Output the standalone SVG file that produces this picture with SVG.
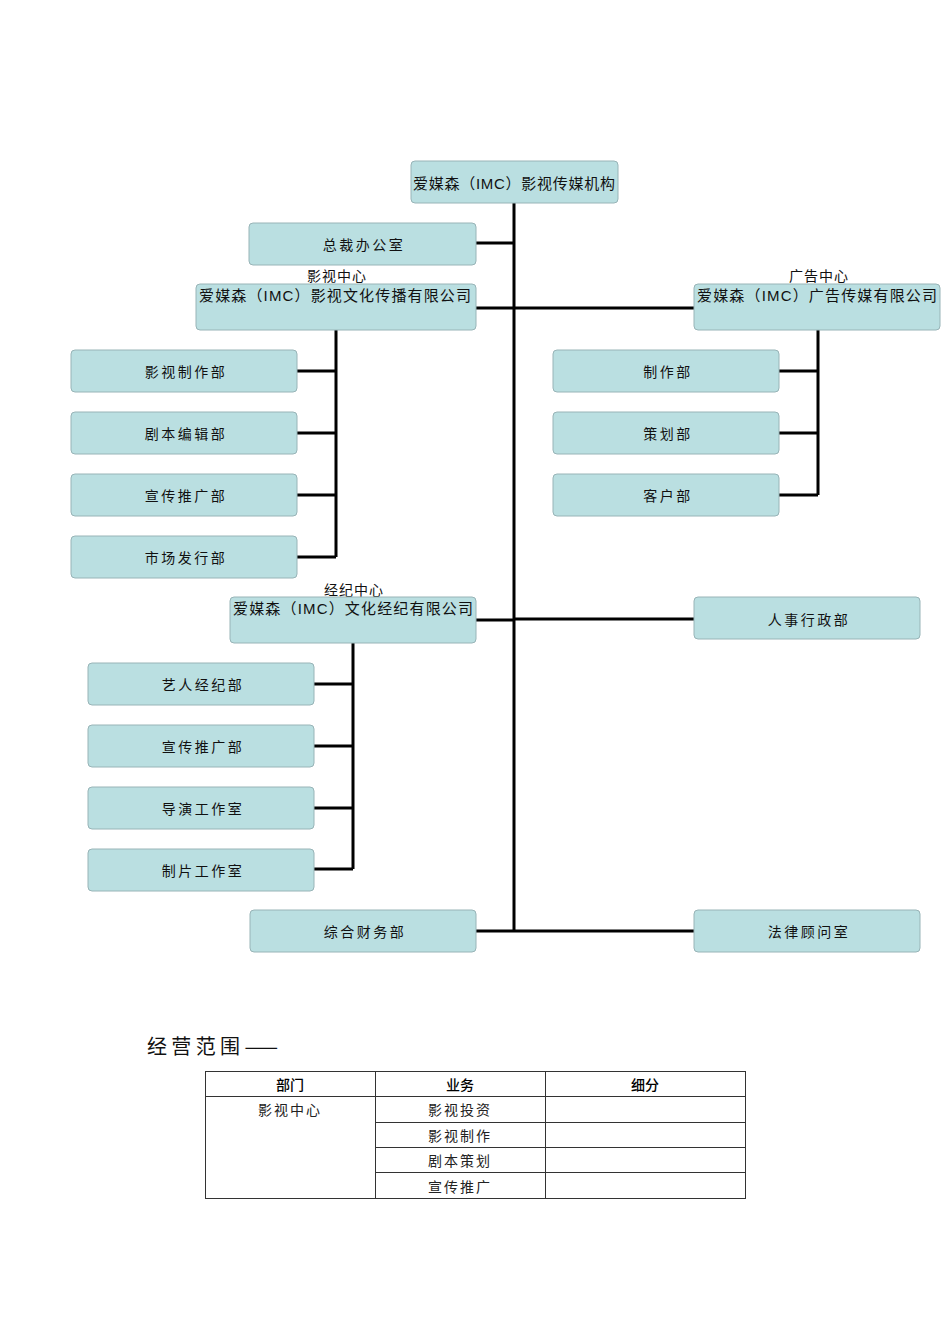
<svg xmlns="http://www.w3.org/2000/svg" width="950" height="1344" viewBox="0 0 950 1344">
<style>
.box{fill:#badfe1;stroke:#98b4b7;stroke-width:1}
.t{font-family:"Liberation Sans","Noto Sans CJK SC",sans-serif;font-size:14px;fill:#111;text-anchor:middle;letter-spacing:2.5px}
.tc{font-family:"Liberation Sans","Noto Sans CJK SC",sans-serif;font-size:15px;fill:#111}
.lbl{font-family:"Noto Sans CJK SC",sans-serif;font-size:14px;fill:#111}
.ln{stroke:#000;stroke-width:3;fill:none}
.tb{font-family:"Liberation Sans","Noto Sans CJK SC",sans-serif;font-size:14px;fill:#222;text-anchor:middle}
.tbl{stroke:#333;stroke-width:1;fill:none}
</style>
<rect width="950" height="1344" fill="#fff"/>
<g id="connectors">
<path class="ln" d="M514 203V931"/>
<path class="ln" d="M476 243H514"/>
<path class="ln" d="M476 308H694"/>
<path class="ln" d="M336 330V557M297 371H336M297 433H336M297 495H336M297 557H336"/>
<path class="ln" d="M818 330V495M779 371H818M779 433H818M779 495H818"/>
<path class="ln" d="M476 620H514M514 619H694"/>
<path class="ln" d="M353 643V869M314 684H353M314 746H353M314 808H353M314 869H353"/>
<path class="ln" d="M476 931H694"/>
</g>
<g id="root"><rect class="box" x="411" y="161" width="207" height="42" rx="4"/><text class="tc" x="413" y="189" textLength="202" lengthAdjust="spacing">爱媒森（IMC）影视传媒机构</text></g>
<g id="zongcai"><rect class="box" x="249" y="223" width="227" height="42" rx="4"/><text class="t" x="364" y="250">总裁办公室</text></g>
<g id="yingshi"><text class="lbl" x="307" y="281" textLength="59" lengthAdjust="spacing">影视中心</text><rect class="box" x="196" y="284" width="280" height="46" rx="4"/><text class="tc" x="199" y="301" textLength="272" lengthAdjust="spacing">爱媒森（IMC）影视文化传播有限公司</text></g>
<g id="guanggao"><text class="lbl" x="789" y="281" textLength="59" lengthAdjust="spacing">广告中心</text><rect class="box" x="694" y="284" width="246" height="46" rx="4"/><text class="tc" x="697" y="301" textLength="240" lengthAdjust="spacing">爱媒森（IMC）广告传媒有限公司</text></g>
<g id="ys1"><rect class="box" x="71" y="350" width="226" height="42" rx="4"/><text class="t" x="186" y="377">影视制作部</text></g>
<g id="ys2"><rect class="box" x="71" y="412" width="226" height="42" rx="4"/><text class="t" x="186" y="439">剧本编辑部</text></g>
<g id="ys3"><rect class="box" x="71" y="474" width="226" height="42" rx="4"/><text class="t" x="186" y="501">宣传推广部</text></g>
<g id="ys4"><rect class="box" x="71" y="536" width="226" height="42" rx="4"/><text class="t" x="186" y="563">市场发行部</text></g>
<g id="gg1"><rect class="box" x="553" y="350" width="226" height="42" rx="4"/><text class="t" x="668" y="377">制作部</text></g>
<g id="gg2"><rect class="box" x="553" y="412" width="226" height="42" rx="4"/><text class="t" x="668" y="439">策划部</text></g>
<g id="gg3"><rect class="box" x="553" y="474" width="226" height="42" rx="4"/><text class="t" x="668" y="501">客户部</text></g>
<g id="jingji"><text class="lbl" x="324" y="595" textLength="59" lengthAdjust="spacing">经纪中心</text><rect class="box" x="230" y="597" width="246" height="46" rx="4"/><text class="tc" x="233" y="614" textLength="240" lengthAdjust="spacing">爱媒森（IMC）文化经纪有限公司</text></g>
<g id="renshi"><rect class="box" x="694" y="597" width="226" height="42" rx="4"/><text class="t" x="809" y="625">人事行政部</text></g>
<g id="jj1"><rect class="box" x="88" y="663" width="226" height="42" rx="4"/><text class="t" x="203" y="690">艺人经纪部</text></g>
<g id="jj2"><rect class="box" x="88" y="725" width="226" height="42" rx="4"/><text class="t" x="203" y="752">宣传推广部</text></g>
<g id="jj3"><rect class="box" x="88" y="787" width="226" height="42" rx="4"/><text class="t" x="203" y="814">导演工作室</text></g>
<g id="jj4"><rect class="box" x="88" y="849" width="226" height="42" rx="4"/><text class="t" x="203" y="876">制片工作室</text></g>
<g id="caiwu"><rect class="box" x="250" y="910" width="226" height="42" rx="4"/><text class="t" x="365" y="937">综合财务部</text></g>
<g id="falv"><rect class="box" x="694" y="910" width="226" height="42" rx="4"/><text class="t" x="809" y="937">法律顾问室</text></g>
<g id="scope">
<text x="147" y="1054" textLength="131" lengthAdjust="spacing" style="font-family:'Noto Sans CJK SC',sans-serif;font-size:20px;fill:#111">经营范围——</text>
<rect class="tbl" x="205.5" y="1071.5" width="540" height="127"/>
<path class="tbl" d="M375.5 1071V1198M545.5 1071V1198M205 1096.5H745M375 1122.5H745M375 1147.5H745M375 1172.5H745"/>
<text class="tb" x="290" y="1090" style="font-weight:500;fill:#000">部门</text>
<text class="tb" x="460" y="1090" style="font-weight:500;fill:#000">业务</text>
<text class="tb" x="645" y="1090" style="font-weight:500;fill:#000">细分</text>
<text class="tb" x="290" y="1115" style="letter-spacing:2px">影视中心</text>
<text class="tb" x="460" y="1115" style="letter-spacing:2px">影视投资</text>
<text class="tb" x="460" y="1141" style="letter-spacing:2px">影视制作</text>
<text class="tb" x="460" y="1166" style="letter-spacing:2px">剧本策划</text>
<text class="tb" x="460" y="1192" style="letter-spacing:2px">宣传推广</text>
</g>
</svg>
